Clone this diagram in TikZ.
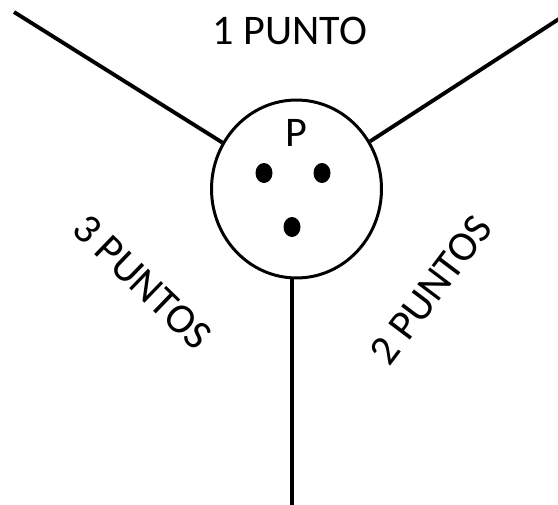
\documentclass[tikz,border=0pt]{standalone}
\usepackage{fontspec}
\setmainfont{Carlito}
\usetikzlibrary{shapes.geometric}

\begin{document}
\begin{tikzpicture}[
    x=0.02cm, y=-0.02cm,
    every node/.style={font=\fontsize{24}{27}\selectfont},
    plate/.style={draw, ellipse, line width=1.7pt, minimum width=3.4cm, minimum height=3.56cm, inner sep=0pt},
    spot/.style={fill, ellipse, minimum width=0.34cm, minimum height=0.4cm, inner sep=0pt},
    edge/.style={line width=2.2pt}
]
\useasboundingbox (0,0) rectangle (558,504);

\node[plate] (P) at (296.5,189) {};
\node (label) at (296,133) {P};
\node[spot] (d1) at (264,173) {};
\node[spot] (d2) at (322,173) {};
\node[spot] (d3) at (292,227) {};

\coordinate (tl) at (14,12);
\coordinate (tr) at (562,17);
\coordinate (bot) at (292,506);
\coordinate (bottop) at (292,278);

\draw[edge] (P) -- (tl);
\draw[edge] (P) -- (tr);
\draw[edge] (bottop) -- (bot);

\node (one) at (290,31) {1 PUNTO};
\node[rotate=-44] (three) at (142,282) {3 PUNTOS};
\node[rotate=53] (two) at (431,290) {2 PUNTOS};
\end{tikzpicture}
\end{document}
